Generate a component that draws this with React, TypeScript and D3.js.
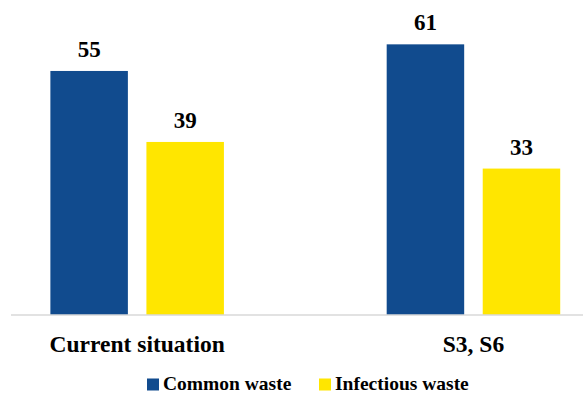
import React from "react";
import * as d3 from "d3";

const categories = ["Current situation", "S3, S6"];
const seriesNames = ["Common waste", "Infectious waste"];
const commonWaste = [55, 61];
const infectiousWaste = [39, 33];
const seriesColors = ["#114b8e", "#ffe600"];

const W = 583;
const H = 393;

export default function App() {
  const baseY = 315;
  const y = d3.scaleLinear().domain([0, 65]).range([baseY, baseY - 65 * 4.437]);
  const x0 = d3
    .scaleBand<string>()
    .domain(categories)
    .range([-31, 641.6])
    .paddingInner(0.484)
    .paddingOuter(0.242);
  const x1 = d3
    .scaleBand<string>()
    .domain(seriesNames)
    .range([0, x0.bandwidth()])
    .paddingInner(0.193)
    .paddingOuter(0);
  const values = [commonWaste, infectiousWaste];

  return (
    <svg width={W} height={H} style={{ position: "absolute", left: 0, top: 0 }}>
      {categories.map((c, ci) =>
        seriesNames.map((s, si) => {
          const v = values[si][ci];
          const bx = (x0(c) ?? 0) + (x1(s) ?? 0);
          return (
            <g key={c + s}>
              <rect
                x={bx}
                y={y(v)}
                width={x1.bandwidth()}
                height={baseY - y(v)}
                fill={seriesColors[si]}
              />
              <text
                x={bx + x1.bandwidth() / 2 - 11.5}
                y={y(v) - 14}
                style={{ fontFamily: "Times New Roman", fontSize: 23, fontWeight: 700 }}
              >
                {String(v)}
              </text>
            </g>
          );
        })
      )}
      <line x1={11} x2={W} y1={baseY} y2={baseY} stroke="#d9d9d9" strokeWidth={1.5} />
      {categories.map((c) => (
        <text
          key={c}
          x={(x0(c) ?? 0) + x0.bandwidth() / 2}
          y={351.5}
          textAnchor="middle"
          style={{ fontFamily: "Times New Roman", fontSize: 23.5, fontWeight: 700 }}
        >
          {c}
        </text>
      ))}
      {seriesNames.map((s, si) => {
        const lx = [147, 319][si];
        return (
          <g key={s}>
            <rect x={lx} y={378.5} width={12} height={12} fill={seriesColors[si]} />
            <text
              x={lx + 16}
              y={389.5}
              style={{ fontFamily: "Times New Roman", fontSize: 19.5, fontWeight: 700 }}
            >
              {s}
            </text>
          </g>
        );
      })}
    </svg>
  );
}
